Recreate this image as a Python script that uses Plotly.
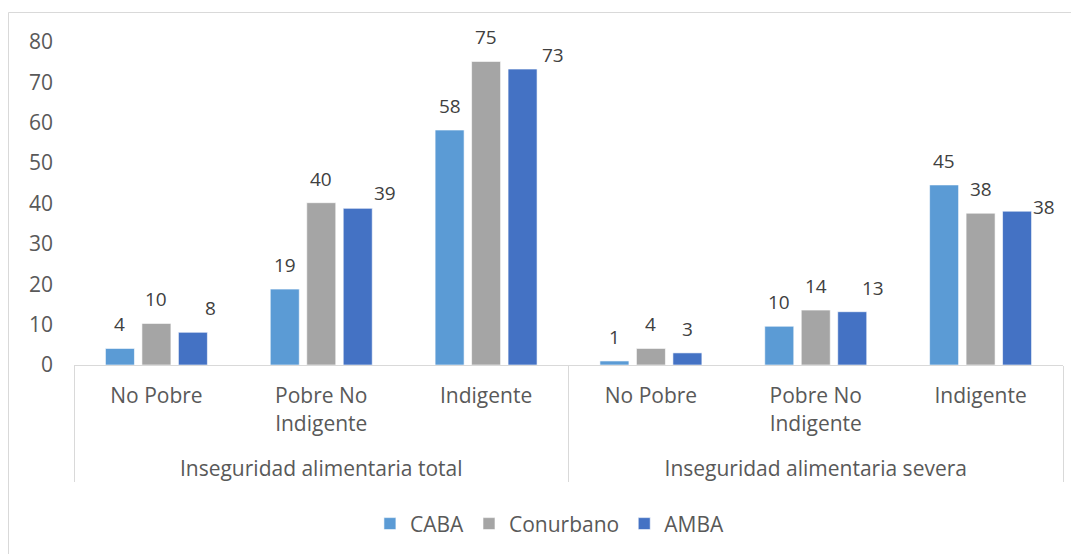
import plotly.graph_objects as go

# ---- data ----
groups = ["Inseguridad alimentaria total"] * 3 + ["Inseguridad alimentaria severa"] * 3
categories = ["No Pobre", "Pobre No<br>Indigente", "Indigente"] * 2
series_names = ["CABA", "Conurbano", "AMBA"]
caba = [4.1, 18.8, 58.2, 1.0, 9.6, 44.6]
conurbano = [10.3, 40.2, 75.2, 4.1, 13.6, 37.6]
amba = [8.1, 38.8, 73.3, 3.0, 13.2, 38.1]
colors = ["#5B9BD5", "#A5A5A5", "#4472C4"]

# label nudges in pixels (Excel manually moved labels), per series per category
label_dx = [[0] * 6, [0] * 6, [18, 27, 30, 0, 21, 27]]
label_dy = [[24] * 6, [24] * 6, [24, 15, 14, 24, 24, 4]]

# the page body has an 8px margin; size the figure so the plot lands where the reference has it
W, H = 1071, 546
ML, MR, MT, MB = 66, 16, 34, 189
PW, PH = W - ML - MR, H - MT - MB

# group labels pushed down one line (Excel leaves a wide gap below the inner labels)
group_labels = ["<br>" + g for g in groups]

fig = go.Figure()
all_vals = [caba, conurbano, amba]
for name, vals, col in zip(series_names, all_vals, colors):
    fig.add_trace(go.Bar(
        name=name, x=[group_labels, categories], y=vals,
        marker=dict(color=col, line=dict(color="rgba(255,255,255,0.6)", width=1)),
    ))

bargap = 0.336
bargroupgap = 0.205
slot = (1 - bargap) / 3
annotations = []
for s, vals in enumerate(all_vals):
    for i, v in enumerate(vals):
        annotations.append(dict(
            x=i + (s - 1) * slot, y=v, xref="x", yref="y",
            text=str(int(round(v))), showarrow=False,
            xanchor="center", yanchor="middle",
            xshift=label_dx[s][i], yshift=label_dy[s][i],
            font=dict(family="Open Sans", size=19, color="#404040"),
        ))

fig.update_layout(
    width=W, height=H,
    margin=dict(l=ML, r=MR, t=MT, b=MB, pad=0),
    paper_bgcolor="white", plot_bgcolor="white",
    barmode="group", bargap=bargap, bargroupgap=bargroupgap,
    font=dict(family="Open Sans", size=21, color="#595959"),
    showlegend=True,
    legend=dict(orientation="h", xref="container", x=0.506, xanchor="center",
                yref="container", y=0.055, yanchor="middle",
                font=dict(size=21, color="#595959"), itemclick=False),
    annotations=annotations,
    shapes=[dict(type="rect", xref="paper", yref="paper",
                 x0=(0.5 - ML) / PW, x1=(W + 10 - ML) / PW,
                 y0=(PH + MT - (H + 10)) / PH, y1=(PH + MT - 4.5) / PH,
                 line=dict(color="#D9D9D9", width=1), fillcolor="rgba(0,0,0,0)",
                 layer="below")],
)
fig.update_yaxes(range=[0, 80], dtick=10, showgrid=False, zeroline=False,
                 showline=False, ticklabelstandoff=20,
                 tickfont=dict(size=21, color="#595959"))
fig.update_xaxes(type="multicategory", showline=True, linecolor="#D9D9D9",
                 linewidth=1, showdividers=True, dividercolor="#D9D9D9",
                 dividerwidth=1, ticks="", ticklabelstandoff=12,
                 tickfont=dict(size=21, color="#595959"))

fig.write_html("out.html")
